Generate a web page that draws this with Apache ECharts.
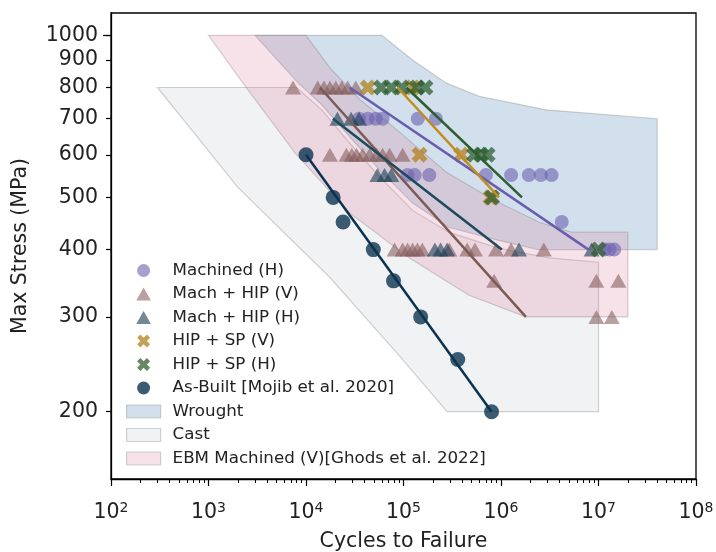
<!DOCTYPE html>
<html><head><meta charset="utf-8">
<script src="https://cdn.jsdelivr.net/npm/echarts@6/dist/echarts.min.js"></script>
<style>html,body{margin:0;padding:0;background:#fff}#c{width:716px;height:552px}</style>
</head><body><div id="c"></div>
<script>
// ---------------- data (cycles N, stress S in MPa) ----------------
const machinedH_N = [3.5e4, 4.3e4, 5.2e4, 6.1e4, 1.4e5, 2.15e5, 1.1e5, 1.3e5, 1.84e5, 7.0e5, 1.27e6, 1.93e6, 2.56e6, 3.3e6, 4.2e6, 1.15e7, 1.3e7, 1.45e7];
const machinedH_S = [700, 700, 700, 700, 700, 700, 550, 550, 550, 550, 550, 550, 550, 550, 450, 400, 400, 400];

const machHipV_N = [7.36e3, 1.32e4, 1.53e4, 1.76e4, 2.02e4, 2.33e4, 2.68e4, 3.24e4,
                    1.76e4, 2.6e4, 2.95e4, 3.3e4, 3.8e4, 4.5e4, 5.3e4, 6.1e4, 7.2e4, 9.8e4,
                    8.1e4, 9.8e4, 1.1e5, 1.24e5, 1.39e5, 1.56e5, 2.95e5, 4.5e5, 5.4e5, 8.9e5, 1.27e6, 2.75e6,
                    8.5e5, 9.5e6, 1.6e7,
                    9.5e6, 1.37e7];
const machHipV_S = [800, 800, 800, 800, 800, 800, 800, 800,
                    600, 600, 600, 600, 600, 600, 600, 600, 600, 600,
                    400, 400, 400, 400, 400, 400, 400, 400, 400, 400, 400, 400,
                    350, 350, 350,
                    300, 300];

const machHipH_N = [2.1e4, 2.9e4, 3.5e4, 5.4e4, 6.4e4, 7.5e4, 2.1e5, 2.4e5, 2.8e5, 1.53e6, 8.5e6];
const machHipH_S = [700, 700, 700, 550, 550, 550, 400, 400, 400, 400, 400];

const hipSpV_N = [4.3e4, 1.24e5, 1.46e5, 3.9e5, 7.8e5];
const hipSpV_S = [800, 800, 600, 600, 500];

const hipSpH_N = [5.9e4, 7.5e4, 9.6e4, 1.37e5, 1.68e5, 5.3e5, 6.25e5, 7.3e5, 8.1e5, 1.0e7];
const hipSpH_S = [800, 800, 800, 800, 800, 600, 600, 600, 500, 400];

const asBuilt_N = [1.0e4, 1.9e4, 2.4e4, 4.9e4, 7.9e4, 1.5e5, 3.6e5, 8.0e5];
const asBuilt_S = [600, 500, 450, 400, 350, 300, 250, 200];

// trend lines (end points)
const machinedHFit_N = [2.8e4, 7.9e6], machinedHFit_S = [800, 400];
const machHipVFit_N = [1.39e4, 1.8e6], machHipVFit_S = [800, 300];
const machHipHFit_N = [1.89e4, 1.02e6], machHipHFit_S = [700, 400];
const hipSpVFit_N = [8.7e4, 9.55e5], hipSpVFit_S = [800, 500];
const hipSpHFit_N = [1.07e5, 1.64e6], hipSpHFit_S = [800, 500];
const asBuiltFit_N = [1.0e4, 8.0e5], asBuiltFit_S = [600, 200];

// reference bands (polygon outlines, [N, S])
const wroughtBand = [[3000,1000],[6e4,1000],[1.24e5,900],[2.75e5,815],[6e5,770],[2.9e6,727],[4e7,700],[4e7,400],[2.4e6,400],[9.5e5,416],[2.9e5,440],[1.24e5,488],[5.7e4,562],[2.8e4,648],[1.45e4,743],[8.3e3,816]];
const castBand = [[300,800],[8e3,800],[1.45e4,727],[2.8e4,631],[5.7e4,546],[1.24e5,473],[2.9e5,431],[9.5e5,402],[3.1e6,386],[1e7,379],[1e7,200],[2.8e5,200],[9.1e4,254],[1.76e4,355],[2e3,522]];
const ebmBand = [[1000,1000],[1e4,1000],[1.76e4,870],[3.56e4,760],[8.5e4,668],[2.75e5,557],[8.5e5,494],[2.44e6,450],[5.3e6,431],[2e7,431],[2e7,300],[1.8e6,300],[4.7e5,329],[1.15e5,386],[2.8e4,468],[7.7e3,605],[2.4e3,803]];

// axis ticks
const xMajorTicks = [1e2, 1e3, 1e4, 1e5, 1e6, 1e7, 1e8];
const yTicks = [200, 300, 400, 500, 600, 700, 800, 900, 1000];
const yMajorTick = [1000];
// ------------------------------------------------------------------
const xMinorTicks = [];
for (let e = 2; e < 8; e++) for (let k = 2; k <= 9; k++) xMinorTicks.push(k * Math.pow(10, e));

const FONT = 'DejaVu Sans';
const pairs = (a, b) => a.map((v, i) => [v, b[i]]);
const XPATH = 'path://M0,2.5L2.5,0L5,2.5L7.5,0L10,2.5L7.5,5L10,7.5L7.5,10L5,7.5L2.5,10L0,7.5L2.5,5Z';
const TRI = 'path://M5,0L10,8.8L0,8.8Z';

const C = {
  machinedH: 'rgba(108,98,176,0.76)', machinedHLine: '#6a5cae',
  machHipV: 'rgba(128,88,86,0.7)', machHipVLine: '#7b5a54',
  machHipH: 'rgba(30,64,86,0.78)', machHipHLine: '#1d4a5c',
  hipSpV: 'rgba(176,125,20,0.9)', hipSpVLine: '#c28d1a',
  hipSpH: 'rgba(42,90,42,0.9)', hipSpHLine: '#2d5e2d',
  asBuilt: '#0b3350',
  wrought: 'rgba(70,130,180,0.25)', cast: 'rgba(112,128,144,0.1)', ebm: 'rgba(219,112,147,0.2)',
  edge: 'rgba(128,128,128,0.35)'
};

function band(name, pts, fill) {
  return {
    type: 'custom', name: name, coordinateSystem: 'cartesian2d', silent: true, z: 1,
    data: pts, encode: { x: 0, y: 1 },
    itemStyle: { color: fill },
    renderItem: function (params, api) {
      if (params.dataIndex !== 0) return null;
      const points = pts.map(p => api.coord(p));
      return { type: 'polygon', shape: { points: points },
        style: { fill: fill, stroke: C.edge, lineWidth: 1.2 } };
    }
  };
}
function scat(name, N, S, symbol, size, color, z) {
  return { type: 'scatter', name: name, data: pairs(N, S), symbol: symbol, symbolSize: size,
    itemStyle: { color: color }, z: z || 4, silent: true };
}
function fit(name, N, S, color) {
  return { type: 'line', name: name, data: pairs(N, S), symbol: 'none', z: 5, silent: true,
    lineStyle: { color: color, width: 2.5 } };
}

const chart = echarts.init(document.getElementById('c'), null, { renderer: 'canvas' });
chart.setOption({
  animation: false,
  backgroundColor: '#fff',
  grid: { left: 111, right: 20, top: 13, bottom: 73, outerBoundsMode: 'none', containLabel: false,
          show: true, borderColor: '#000', borderWidth: 1.3, backgroundColor: 'transparent' },
  xAxis: [{
    type: 'log', logBase: 10, min: 100, max: 1e8, position: 'bottom',
    name: 'Cycles to Failure', nameLocation: 'middle', nameGap: 52,
    nameTextStyle: { fontFamily: FONT, fontSize: 20.5, color: '#222' },
    axisLine: { show: true, onZero: false, lineStyle: { color: '#000', width: 1.3 } },
    axisTick: { show: true, length: 7, customValues: xMajorTicks, lineStyle: { color: '#000', width: 1.2 } },
    axisLabel: { customValues: xMajorTicks, margin: 22,
      formatter: v => '{b|10}{s|' + Math.round(Math.log10(v)) + '}',
      rich: { b: { fontFamily: FONT, fontSize: 20.5, color: '#222', lineHeight: 24 },
              s: { fontFamily: FONT, fontSize: 14, color: '#222', verticalAlign: 'top', lineHeight: 14 } } },
    splitLine: { show: false }
  }, {
    type: 'log', logBase: 10, min: 100, max: 1e8, position: 'bottom',
    axisLine: { show: false, onZero: false },
    axisTick: { show: true, length: 4, customValues: xMinorTicks, lineStyle: { color: '#000', width: 1 } },
    axisLabel: { show: false }, splitLine: { show: false }
  }],
  yAxis: [{
    type: 'log', logBase: 10, min: 150, max: 1100, position: 'left',
    name: 'Max Stress (MPa)', nameLocation: 'middle', nameGap: 80,
    nameTextStyle: { fontFamily: FONT, fontSize: 20.5, color: '#222' },
    axisLine: { show: true, onZero: false, lineStyle: { color: '#000', width: 1.3 } },
    axisTick: { show: true, length: 5, customValues: yTicks, lineStyle: { color: '#000', width: 1.2 } },
    axisLabel: { customValues: yTicks, margin: 13, fontFamily: FONT, fontSize: 20.5, color: '#222',
      formatter: v => String(Math.round(v)) },
    splitLine: { show: false }
  }, {
    type: 'log', logBase: 10, min: 150, max: 1100, position: 'left',
    axisLine: { show: false, onZero: false },
    axisTick: { show: true, length: 8, customValues: yMajorTick, lineStyle: { color: '#000', width: 1.2 } },
    axisLabel: { show: false }, splitLine: { show: false }
  }],
  legend: {
    orient: 'vertical', left: 121, top: 257, itemWidth: 34, itemHeight: 13, itemGap: 6.5,
    selectedMode: false, symbolKeepAspect: true,
    textStyle: { fontFamily: FONT, fontSize: 16.7, color: '#222', padding: [0, 0, 0, 7] },
    data: [
      { name: 'Machined (H)' },
      { name: 'Mach + HIP (V)', icon: TRI },
      { name: 'Mach + HIP (H)', icon: TRI },
      { name: 'HIP + SP (V)' }, { name: 'HIP + SP (H)' }, { name: 'As-Built [Mojib et al. 2020]' },
      { name: 'Wrought', icon: 'rect', itemStyle: { color: C.wrought, borderColor: C.edge, borderWidth: 1.2 } },
      { name: 'Cast', icon: 'rect', itemStyle: { color: C.cast, borderColor: C.edge, borderWidth: 1.2 } },
      { name: 'EBM Machined (V)[Ghods et al. 2022]', icon: 'rect', itemStyle: { color: C.ebm, borderColor: C.edge, borderWidth: 1.2 } }
    ]
  },
  series: [
    band('Wrought', wroughtBand, C.wrought),
    band('Cast', castBand, C.cast),
    band('EBM Machined (V)[Ghods et al. 2022]', ebmBand, C.ebm),
    scat('Machined (H)', machinedH_N, machinedH_S, 'circle', 14, C.machinedH),
    scat('Mach + HIP (V)', machHipV_N, machHipV_S, 'triangle', [16, 14], C.machHipV),
    scat('Mach + HIP (H)', machHipH_N, machHipH_S, 'triangle', [16, 14], C.machHipH),
    scat('HIP + SP (V)', hipSpV_N, hipSpV_S, XPATH, 16, C.hipSpV),
    scat('HIP + SP (H)', hipSpH_N, hipSpH_S, XPATH, 16, C.hipSpH),
    fit('fit Machined (H)', machinedHFit_N, machinedHFit_S, C.machinedHLine),
    fit('fit Mach + HIP (V)', machHipVFit_N, machHipVFit_S, C.machHipVLine),
    fit('fit Mach + HIP (H)', machHipHFit_N, machHipHFit_S, C.machHipHLine),
    fit('fit HIP + SP (V)', hipSpVFit_N, hipSpVFit_S, C.hipSpVLine),
    fit('fit HIP + SP (H)', hipSpHFit_N, hipSpHFit_S, C.hipSpHLine),
    fit('fit As-Built', asBuiltFit_N, asBuiltFit_S, C.asBuilt),
    scat('As-Built [Mojib et al. 2020]', asBuilt_N, asBuilt_S, 'circle', 15, C.asBuilt, 6)
  ]
});
</script></body></html>
